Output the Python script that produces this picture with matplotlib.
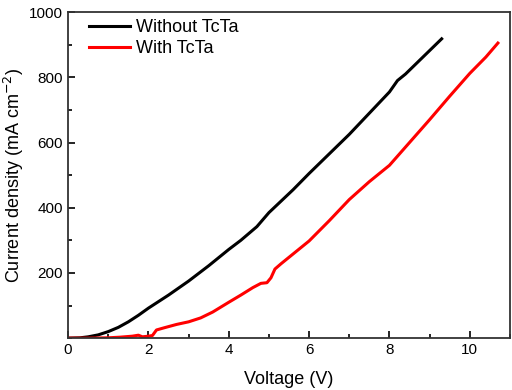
import numpy as np
import matplotlib
matplotlib.use("Agg")
import matplotlib.pyplot as plt
from matplotlib.ticker import MultipleLocator

plt.rcParams['font.family'] = ['Liberation Sans', 'DejaVu Sans']
plt.rcParams['axes.unicode_minus'] = False

# J-V data
v_without = [0, 0.3, 0.5, 0.75, 1.0, 1.25, 1.5, 1.75, 2.0, 2.5, 3.0, 3.5, 4.0, 4.3,
             4.7, 5.0, 5.3, 5.6, 6.0, 6.5, 7.0, 7.5, 8.0, 8.2, 8.4, 8.8, 9.3]
j_without = [0, 1, 4, 10, 20, 33, 50, 70, 92, 132, 175, 222, 272, 300,
             342, 385, 420, 455, 505, 565, 625, 690, 755, 790, 810, 858, 918]

v_with = [0, 0.5, 1.0, 1.3, 1.6, 1.75, 1.85, 2.0, 2.1, 2.2, 2.4, 2.7, 3.0, 3.3, 3.6,
          4.0, 4.3, 4.6, 4.8, 4.95, 5.05, 5.15, 5.3, 5.6, 6.0, 6.5, 7.0, 7.5, 8.0,
          8.5, 9.0, 9.5, 10.0, 10.4, 10.7]
j_with = [0, 0, 1, 3, 6, 9, 4, 6, 8, 25, 32, 42, 50, 62, 80,
          110, 132, 155, 168, 170, 185, 212, 228, 258, 298, 360, 425, 480, 530,
          600, 670, 742, 812, 862, 905]

labels = ["Without TcTa", "With TcTa"]

fig = plt.figure(figsize=(5.12, 3.9), dpi=100)
ax = fig.add_axes([0.133, 0.133, 0.863, 0.836])

ax.plot(v_without, j_without, color='black', lw=2.2, label=labels[0])
ax.plot(v_with, j_with, color='#ff0000', lw=2.2, label=labels[1])

ax.set_xlim(0, 11)
ax.set_ylim(0, 1000)
ax.xaxis.set_major_locator(MultipleLocator(2))
ax.xaxis.set_minor_locator(MultipleLocator(1))
ax.set_yticks([200, 400, 600, 800, 1000])
ax.yaxis.set_minor_locator(MultipleLocator(100))
ax.tick_params(which='both', direction='in', labelsize=11, top=False, right=False)
ax.tick_params(which='major', length=5, width=1.2)
ax.tick_params(which='minor', length=3, width=1.2)
for s in ax.spines.values():
    s.set_linewidth(1.3)
    s.set_color('#333333')

ax.set_xlabel("Voltage (V)", fontsize=13, labelpad=10)
ax.set_ylabel("Current density (mA cm$^{-2}$)", fontsize=13, labelpad=2)

ax.legend(loc='upper left', bbox_to_anchor=(0.047, 0.978), frameon=False,
          fontsize=13, handlelength=2.3, handletextpad=0.3, borderaxespad=0,
          borderpad=0, labelspacing=0.22)

fig.savefig("out.png", dpi=100)
